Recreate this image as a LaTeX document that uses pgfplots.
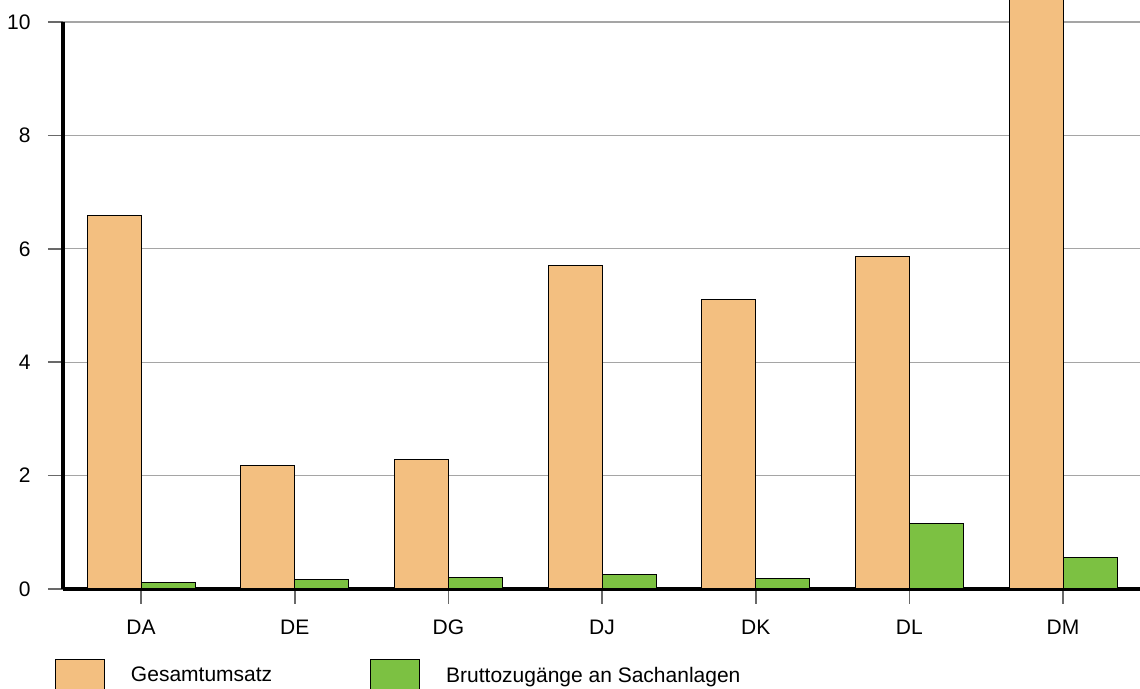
\documentclass[border=0pt]{standalone}
\usepackage{fontspec}
\setmainfont{Liberation Sans}
\usepackage{pgfplots}
\pgfplotsset{compat=1.18}
\definecolor{barorange}{RGB}{243,191,128}
\definecolor{bargreen}{RGB}{124,193,66}
\definecolor{gridgray}{RGB}{165,165,165}
\definecolor{tickgray}{RGB}{105,105,105}
\begin{document}
\begin{tikzpicture}
\path[use as bounding box] (-31.5pt,-50pt) rectangle (538.5pt,294.5pt);
\clip (-31.5pt,-50pt) rectangle (538.5pt,294.5pt);
\begin{axis}[
  at={(0pt,0pt)}, anchor=south west,
  scale only axis, width=538.5pt, height=283.5pt,
  xmin=-0.508, xmax=6.501, ymin=0, ymax=10,
  clip=false,
  ybar=0pt, bar width=27pt,
  axis x line=bottom, axis y line=left,
  axis line style={-, black, line width=1.6pt},
  xtick={0,1,2,3,4,5,6},
  xticklabels={DA,DE,DG,DJ,DK,DL,DM},
  ytick={0,2,4,6,8,10},
  tick align=outside, major tick length=7.5pt,
  major tick style={draw=tickgray, line width=0.8pt},
  ymajorgrids, grid style={gridgray, line width=0.6pt},
  /pgf/number format/assume math mode=true,
  tick label style={font=\fontsize{10.5}{12}\selectfont, inner sep=0pt},
  yticklabel style={anchor=east, xshift=-8.5pt},
  xticklabel style={anchor=base, yshift=-15.5pt},
  legend columns=2,
  legend style={draw=none, fill=none, inner sep=0pt, outer sep=0pt,
    nodes={inner sep=0pt},
    font=\fontsize{10.5}{12}\selectfont,
    /tikz/every odd column/.append style={column sep=13pt},
    /tikz/every even column/.append style={column sep=49pt},
    at={(axis description cs:-0.00743,-0.12346)}, anchor=north west},
  legend cell align=left,
  legend image code/.code={\draw[#1] (0pt,-9pt) rectangle (24.5pt,8.25pt);},
]
\addplot[fill=barorange, draw=black, line width=0.5pt] coordinates {
  (0,6.59) (1,2.17) (2,2.29) (3,5.71) (4,5.10) (5,5.86) (6,10.4)};
\addlegendentry{Gesamtumsatz}
\addplot[fill=bargreen, draw=black, line width=0.5pt] coordinates {
  (0,0.11) (1,0.16) (2,0.21) (3,0.25) (4,0.19) (5,1.16) (6,0.56)};
\addlegendentry{Bruttozugänge an Sachanlagen}
\end{axis}
\end{tikzpicture}
\end{document}
